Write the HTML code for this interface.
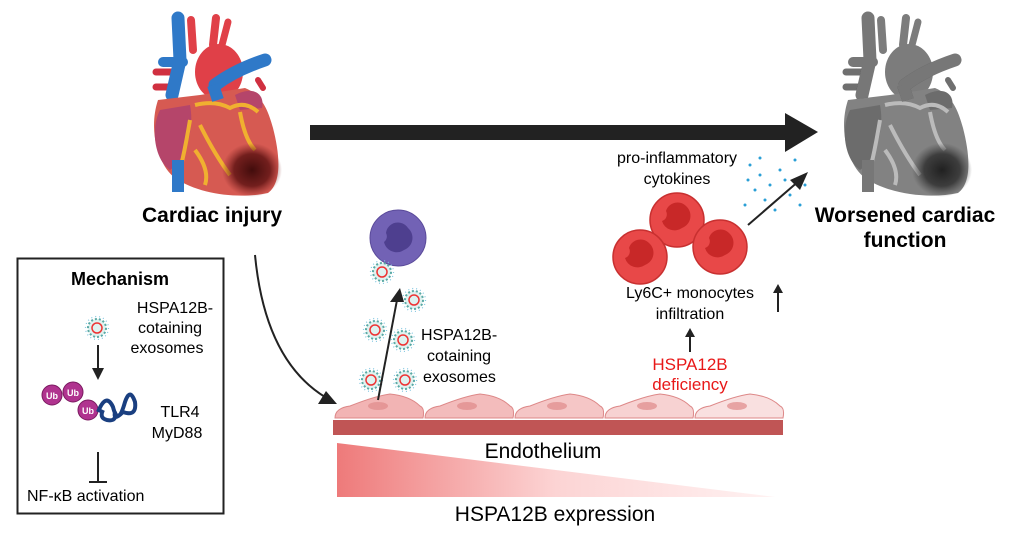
<!DOCTYPE html>
<html><head><style>
body{margin:0;background:#fff;}
svg text{font-family:"Liberation Sans",sans-serif;}
</style></head><body>
<svg width="1034" height="543" viewBox="0 0 1034 543" xmlns="http://www.w3.org/2000/svg">
<defs>
<linearGradient id="g" x1="0" x2="1"><stop offset="0" stop-color="#ee7a7a"/><stop offset="0.5" stop-color="#fcd4d4"/><stop offset="1" stop-color="#fff2f2"/></linearGradient>
<radialGradient id="inf"><stop offset="0" stop-color="#3a0808" stop-opacity="0.95"/><stop offset="0.6" stop-color="#5a1010" stop-opacity="0.8"/><stop offset="1" stop-color="#7a2020" stop-opacity="0"/></radialGradient>
<filter id="gray"><feColorMatrix type="saturate" values="0"/></filter>
<g id="exo"><circle r="9" fill="#dff2f0" stroke="#5aa9a4" stroke-width="2" stroke-dasharray="2 2"/><circle r="5" fill="none" stroke="#e33" stroke-width="1.5"/><circle r="11.5" fill="none" stroke="#7fc6e0" stroke-width="1.2" stroke-dasharray="1 3"/></g>
<g id="mono"><circle r="27" fill="#e84848" stroke="#c83030" stroke-width="1.5"/><path d="M-11,-9 a12,12 0 0 1 20,-5 a13,13 0 0 1 -4,22 a13,13 0 0 1 -20,-7 a7,7 0 0 0 4,-10z" fill="#c82828"/></g>
<g id="heart">
<g stroke-linecap="round" fill="none">
<line x1="193" y1="50" x2="191" y2="20" stroke="#e04048" stroke-width="8"/>
<line x1="213" y1="45" x2="216" y2="18" stroke="#e04048" stroke-width="8"/>
<line x1="222" y1="45" x2="228" y2="22" stroke="#e04048" stroke-width="7"/>
<line x1="156" y1="72" x2="176" y2="72" stroke="#d03040" stroke-width="7"/>
<line x1="156" y1="87" x2="176" y2="87" stroke="#d03040" stroke-width="7"/>
<line x1="258" y1="80" x2="263" y2="88" stroke="#d03040" stroke-width="6"/>
<path d="M178,18 L180,60 L172,95" stroke="#2f79c8" stroke-width="13"/>
<line x1="163" y1="62" x2="183" y2="62" stroke="#2f79c8" stroke-width="10"/>
</g>
<ellipse cx="219" cy="72" rx="24" ry="28" fill="#e04048"/>
<path d="M158,100 C148,130 158,165 175,178 C200,195 240,199 268,193 C282,183 280,155 273,128 C268,110 262,95 245,88 L200,95 Z" fill="#d65a52"/>
<path d="M160,110 C150,130 155,160 170,170 C185,160 195,130 190,105 Z" fill="#b5456a"/>
<path d="M235,95 C255,85 265,95 262,108 L240,110 Z" fill="#b5456a"/>
<path d="M195,105 Q215,100 230,108 Q245,100 258,112 M190,120 Q185,150 180,170 M200,125 Q215,155 230,175 M240,112 Q245,140 255,150 M195,150 Q210,170 205,185" stroke="#f0b030" stroke-width="4" fill="none"/>
<line x1="178" y1="160" x2="178" y2="192" stroke="#2f79c8" stroke-width="12"/>
<path d="M215,85 Q235,70 265,60" stroke="#2f79c8" stroke-width="13" stroke-linecap="round" fill="none"/>
<path d="M213,85 L218,100" stroke="#2f79c8" stroke-width="12"/>
<ellipse cx="252" cy="170" rx="30" ry="27" fill="url(#inf)"/>
</g>
</defs>
<use href="#heart"/>
<use href="#heart" x="690" filter="url(#gray)"/>
<rect x="310" y="125" width="478" height="15" fill="#222"/>
<polygon points="785,113 818,132 785,152" fill="#222"/>
<text x="212" y="222" font-size="21" font-weight="bold" text-anchor="middle">Cardiac injury</text>
<text x="905" y="222" font-size="21" font-weight="bold" text-anchor="middle">Worsened cardiac</text>
<text x="905" y="247" font-size="21" font-weight="bold" text-anchor="middle">function</text>
<path d="M255,255 Q265,360 325,397" stroke="#222" stroke-width="2" fill="none"/>
<polygon points="337,404 318,404 326,391" fill="#222"/>
<rect x="17.5" y="258.5" width="206" height="255" fill="#fff" stroke="#222" stroke-width="2"/>
<text x="120" y="285" font-size="18" font-weight="bold" text-anchor="middle">Mechanism</text>
<text x="175" y="313" font-size="16" text-anchor="middle">HSPA12B-</text>
<text x="170" y="333" font-size="16" text-anchor="middle">cotaining</text>
<text x="167" y="353" font-size="16" text-anchor="middle">exosomes</text>
<use href="#exo" x="97" y="328"/>
<line x1="98" y1="345" x2="98" y2="370" stroke="#222" stroke-width="2"/>
<polygon points="92,368 104,368 98,380" fill="#222"/>
<circle cx="52" cy="395" r="10" fill="#b0338f" stroke="#7a1a60"/><text x="52" y="399" font-size="9" fill="#fff" font-weight="bold" text-anchor="middle">Ub</text>
<circle cx="73" cy="392" r="10" fill="#b0338f" stroke="#7a1a60"/><text x="73" y="396" font-size="9" fill="#fff" font-weight="bold" text-anchor="middle">Ub</text>
<circle cx="88" cy="410" r="10" fill="#b0338f" stroke="#7a1a60"/><text x="88" y="414" font-size="9" fill="#fff" font-weight="bold" text-anchor="middle">Ub</text>
<path d="M98,412 q8,-20 15,-5 q5,20 12,-5 q5,-15 10,0 q2,15 -12,10 q-10,10 -8,0 q2,10 -8,8 q-8,-2 -4,-10" stroke="#1a3f80" stroke-width="4" fill="none"/>
<text x="180" y="417" font-size="16" text-anchor="middle">TLR4</text>
<text x="177" y="438" font-size="16" text-anchor="middle">MyD88</text>
<line x1="98" y1="452" x2="98" y2="482" stroke="#222" stroke-width="2"/>
<line x1="89" y1="482" x2="107" y2="482" stroke="#222" stroke-width="2"/>
<text x="27" y="501" font-size="16">NF-κB activation</text>
<rect x="333" y="420" width="450" height="15" fill="#c05555"/>
<g stroke="#d88" stroke-width="1">
<path d="M335,418 q0,-10 15,-12 q25,-10 40,-12 q20,2 30,12 q5,2 3,12z" fill="#f2b4b4"/>
<path d="M425,418 q0,-10 15,-12 q25,-10 40,-12 q20,2 30,12 q5,2 3,12z" fill="#f3bcbc"/>
<path d="M515,418 q0,-10 15,-12 q25,-10 40,-12 q20,2 30,12 q5,2 3,12z" fill="#f5c6c6"/>
<path d="M605,418 q0,-10 15,-12 q25,-10 40,-12 q20,2 30,12 q5,2 3,12z" fill="#f7d2d2"/>
<path d="M695,418 q0,-10 15,-12 q25,-10 40,-12 q20,2 30,12 q5,2 3,12z" fill="#f9e0e0"/>
</g>
<g fill="#e08a8a" opacity="0.7"><ellipse cx="378" cy="406" rx="10" ry="4"/><ellipse cx="467" cy="406" rx="10" ry="4"/><ellipse cx="557" cy="406" rx="10" ry="4"/><ellipse cx="647" cy="406" rx="10" ry="4"/><ellipse cx="737" cy="406" rx="10" ry="4"/></g>
<polygon points="337,443 775,497 337,497" fill="url(#g)"/>
<text x="543" y="458" font-size="21" text-anchor="middle">Endothelium</text>
<text x="555" y="521" font-size="21" text-anchor="middle">HSPA12B expression</text>
<circle cx="398" cy="238" r="28" fill="#7262b5" stroke="#5a4a9a"/>
<path d="M386,233 a12,12 0 0 1 22,-5 a13,13 0 0 1 -4,22 a13,13 0 0 1 -20,-8 a7,7 0 0 0 2,-9z" fill="#4e3f8f"/>
<use href="#exo" x="382" y="272"/>
<use href="#exo" x="414" y="300"/>
<use href="#exo" x="375" y="330"/>
<use href="#exo" x="403" y="340"/>
<use href="#exo" x="371" y="380"/>
<use href="#exo" x="405" y="380"/>
<line x1="378" y1="400" x2="397" y2="300" stroke="#222" stroke-width="2"/>
<polygon points="390,302 404,302 400,288" fill="#222"/>
<text x="421" y="340" font-size="16">HSPA12B-</text>
<text x="427" y="361" font-size="16">cotaining</text>
<text x="423" y="382" font-size="16">exosomes</text>
<use href="#mono" x="677" y="220"/>
<use href="#mono" x="640" y="257"/>
<use href="#mono" x="720" y="247"/>
<g fill="#2a9fd6"><circle cx="750" cy="165" r="1.5"/><circle cx="760" cy="175" r="1.5"/><circle cx="770" cy="185" r="1.5"/><circle cx="780" cy="170" r="1.5"/><circle cx="790" cy="195" r="1.5"/><circle cx="765" cy="200" r="1.5"/><circle cx="755" cy="190" r="1.5"/><circle cx="800" cy="205" r="1.5"/><circle cx="785" cy="180" r="1.5"/><circle cx="775" cy="210" r="1.5"/><circle cx="745" cy="205" r="1.5"/><circle cx="795" cy="160" r="1.5"/><circle cx="805" cy="185" r="1.5"/><circle cx="760" cy="158" r="1.5"/><circle cx="748" cy="180" r="1.5"/></g>
<line x1="748" y1="225" x2="800" y2="180" stroke="#222" stroke-width="2"/>
<polygon points="808,172 790,180 800,190" fill="#222"/>
<text x="677" y="163" font-size="16" text-anchor="middle">pro-inflammatory</text>
<text x="677" y="184" font-size="16" text-anchor="middle">cytokines</text>
<text x="690" y="298" font-size="16" text-anchor="middle">Ly6C+ monocytes</text>
<text x="690" y="319" font-size="16" text-anchor="middle">infiltration</text>
<line x1="778" y1="312" x2="778" y2="292" stroke="#222" stroke-width="2"/><polygon points="773,293 783,293 778,284" fill="#222"/>
<line x1="690" y1="352" x2="690" y2="336" stroke="#222" stroke-width="2"/><polygon points="685,337 695,337 690,328" fill="#222"/>
<text x="690" y="370" font-size="17" fill="#e81818" text-anchor="middle">HSPA12B</text>
<text x="690" y="390" font-size="17" fill="#e81818" text-anchor="middle">deficiency</text>
</svg>
</body></html>
